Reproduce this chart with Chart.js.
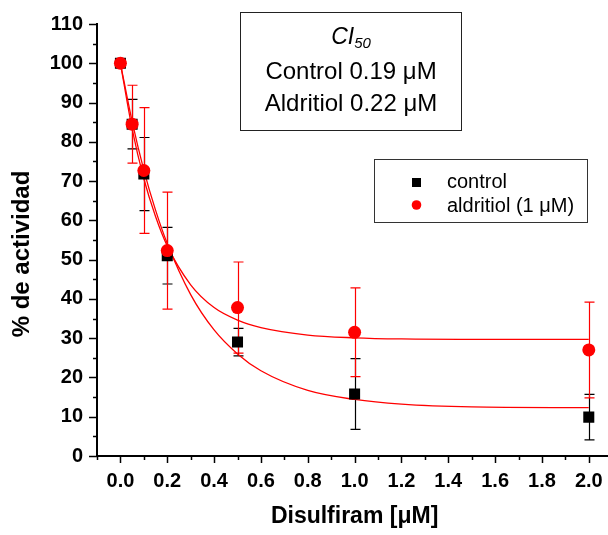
<!DOCTYPE html>
<html>
<head>
<meta charset="utf-8">
<script src="https://cdn.jsdelivr.net/npm/chart.js@4/dist/chart.umd.min.js"></script>
<style>
  html, body { margin: 0; padding: 0; background: #fff; overflow: hidden; }
  #wrap { width: 620px; height: 535px; }
</style>
</head>
<body>
<div id="wrap"><canvas id="chart" width="620" height="535"></canvas></div>
<script>
// concentraciones de disulfiram (uM)
const doses = [0, 0.05, 0.1, 0.2, 0.5, 1.0, 2.0];
const controlMean = [100, 84.5, 71.8, 51.0, 29.0, 15.8, 9.9];
const controlErr = [0, 6.3, 9.3, 7.2, 3.5, 9.0, 5.8];
const aldritiolMean = [100, 84.5, 72.7, 52.3, 37.8, 31.5, 27.0];
const aldritiolErr = [0, 9.9, 16.0, 14.9, 11.6, 11.3, 12.2];

// curvas de ajuste
const fitX = [0, 0.05, 0.1, 0.15, 0.2, 0.3, 0.4, 0.5, 0.6, 0.8, 1.0, 1.2, 1.5, 2.0];
const fitControl = [100, 85.2, 72.8, 62.6, 54.1, 41.1, 32.1, 26.0, 21.7, 16.7, 14.4, 13.2, 12.5, 12.3];
const fitAldritiol = [100, 83.3, 70.6, 61.0, 53.5, 43.6, 37.8, 34.6, 32.7, 30.8, 30.1, 29.8, 29.7, 29.7];

const seriesNames = ["control", "aldritiol (1 \u03BCM)"];
const ciLines = ["Control 0.19 \u03BCM", "Aldritiol 0.22 \u03BCM"];
const yTitle = "% de actividad";

const RED = "#ff0000";
const FONT = "'Liberation Sans', Arial, sans-serif";

function pts(xs, ys) {
  return xs.map((x, i) => ({ x: x, y: ys[i] }));
}

const extras = {
  id: "extras",
  beforeDatasetsDraw(chart) {
    const ctx = chart.ctx;
    const xs = chart.scales.x, ys = chart.scales.y;
    const bars = [
      { mean: controlMean, err: controlErr, color: "#000" },
      { mean: aldritiolMean, err: aldritiolErr, color: RED },
    ];
    ctx.save();
    bars.forEach((b) => {
      ctx.strokeStyle = b.color;
      ctx.lineWidth = 1.2;
      doses.forEach((d, i) => {
        if (!b.err[i]) return;
        const px = Math.round(xs.getPixelForValue(d)) + 0.5;
        const top = ys.getPixelForValue(b.mean[i] + b.err[i]);
        const bot = ys.getPixelForValue(b.mean[i] - b.err[i]);
        ctx.beginPath();
        ctx.moveTo(px, top); ctx.lineTo(px, bot);
        ctx.moveTo(px - 5, top); ctx.lineTo(px + 5, top);
        ctx.moveTo(px - 5, bot); ctx.lineTo(px + 5, bot);
        ctx.stroke();
      });
    });
    ctx.restore();
  },
  afterDraw(chart) {
    const ctx = chart.ctx;
    const xs = chart.scales.x, ys = chart.scales.y;
    ctx.save();
    ctx.strokeStyle = "#000";
    ctx.lineWidth = 1.5;
    // marcas del eje x
    for (let i = -1; i <= 21; i++) {
      const px = Math.round(xs.getPixelForValue(i / 10)) + 0.5;
      if (px > chart.width) continue;
      const len = i % 2 === 0 ? 7 : 4;
      ctx.beginPath();
      ctx.moveTo(px, ys.bottom); ctx.lineTo(px, ys.bottom + len);
      ctx.stroke();
    }
    // marcas del eje y
    for (let i = 0; i <= 22; i++) {
      const py = Math.round(ys.getPixelForValue(i * 5)) + 0.5;
      const len = i % 2 === 0 ? 8 : 4;
      ctx.beginPath();
      ctx.moveTo(xs.left, py); ctx.lineTo(xs.left - len, py);
      ctx.stroke();
    }

    // titulo del eje y
    ctx.fillStyle = "#000";
    ctx.save();
    ctx.translate(22, 254);
    ctx.rotate(-Math.PI / 2);
    ctx.textAlign = "center";
    ctx.textBaseline = "middle";
    ctx.font = "bold 24px " + FONT;
    ctx.fillText(yTitle, 0, 0);
    ctx.restore();

    // recuadro CI50
    ctx.lineWidth = 1;
    ctx.strokeStyle = "#222";
    ctx.strokeRect(240.5, 12.5, 221, 118);
    ctx.textBaseline = "middle";
    ctx.textAlign = "left";
    ctx.font = "italic 23px " + FONT;
    const ciW = ctx.measureText("CI").width;
    ctx.font = "italic 15px " + FONT;
    const subW = ctx.measureText("50").width;
    let cx = 351 - (ciW + subW) / 2;
    ctx.font = "italic 23px " + FONT;
    ctx.fillText("CI", cx, 38);
    ctx.font = "italic 15px " + FONT;
    ctx.fillText("50", cx + ciW, 44);
    ctx.textAlign = "center";
    ctx.font = "24px " + FONT;
    ctx.fillText(ciLines[0], 351, 72);
    ctx.fillText(ciLines[1], 351, 104);

    // leyenda
    ctx.strokeStyle = "#333";
    ctx.strokeRect(374.5, 159.5, 213, 63);
    ctx.fillStyle = "#000";
    ctx.fillRect(412, 178, 9, 9);
    ctx.fillStyle = RED;
    ctx.beginPath();
    ctx.arc(416.5, 205, 4.8, 0, Math.PI * 2);
    ctx.fill();
    ctx.fillStyle = "#000";
    ctx.textAlign = "left";
    ctx.font = "20px " + FONT;
    ctx.fillText(seriesNames[0], 447, 182);
    ctx.fillText(seriesNames[1], 447, 206);
    ctx.restore();
  },
};

new Chart(document.getElementById("chart"), {
  type: "scatter",
  data: {
    datasets: [
      {
        label: "fit aldritiol",
        data: pts(fitX, fitAldritiol),
        showLine: true,
        borderColor: RED,
        borderWidth: 1.3,
        pointRadius: 0,
        cubicInterpolationMode: "monotone",
        order: 4,
      },
      {
        label: "fit control",
        data: pts(fitX, fitControl),
        showLine: true,
        borderColor: RED,
        borderWidth: 1.3,
        pointRadius: 0,
        cubicInterpolationMode: "monotone",
        order: 3,
      },
      {
        label: seriesNames[0],
        data: pts(doses, controlMean),
        pointStyle: "rect",
        pointRadius: 7.8,
        backgroundColor: "#000",
        borderColor: "#000",
        borderWidth: 0,
        order: 2,
      },
      {
        label: seriesNames[1],
        data: pts(doses, aldritiolMean),
        pointStyle: "circle",
        pointRadius: 6.5,
        backgroundColor: RED,
        borderColor: RED,
        borderWidth: 0,
        order: 1,
      },
    ],
  },
  options: {
    responsive: false,
    animation: false,
    layout: { padding: { top: 24, right: 7.5, left: 0, bottom: 0 } },
    plugins: { legend: { display: false }, tooltip: { enabled: false } },
    scales: {
      x: {
        type: "linear",
        min: -0.1,
        max: 2.1,
        grid: { display: false, drawTicks: true, tickLength: 7 },
        border: { display: true, color: "#000", width: 2 },
        ticks: {
          stepSize: 0.1,
          autoSkip: false,
          maxRotation: 0,
          includeBounds: false,
          padding: 6,
          color: "#000",
          font: { family: FONT, size: 20, weight: "bold" },
          callback: (v) => (Math.round(v * 10) % 2 === 0 && v >= 0 && v <= 2.001 ? v.toFixed(1) : ""),
        },
        title: {
          display: true,
          text: "Disulfiram [\u03BCM]",
          color: "#000",
          font: { family: FONT, size: 23, weight: "bold" },
          padding: { top: 0, bottom: 5 },
        },
        afterFit: (s) => { s.height = 79; },
      },
      y: {
        min: 0,
        max: 110,
        grid: { display: false, drawTicks: true, tickLength: 8 },
        border: { display: true, color: "#000", width: 2 },
        ticks: {
          stepSize: 5,
          autoSkip: false,
          padding: 6,
          color: "#000",
          font: { family: FONT, size: 20, weight: "bold" },
          callback: (v) => (v % 10 === 0 ? String(v) : ""),
        },
        title: { display: false },
        afterFit: (s) => { s.width = 97; },
      },
    },
  },
  plugins: [extras],
});
</script>
</body>
</html>
